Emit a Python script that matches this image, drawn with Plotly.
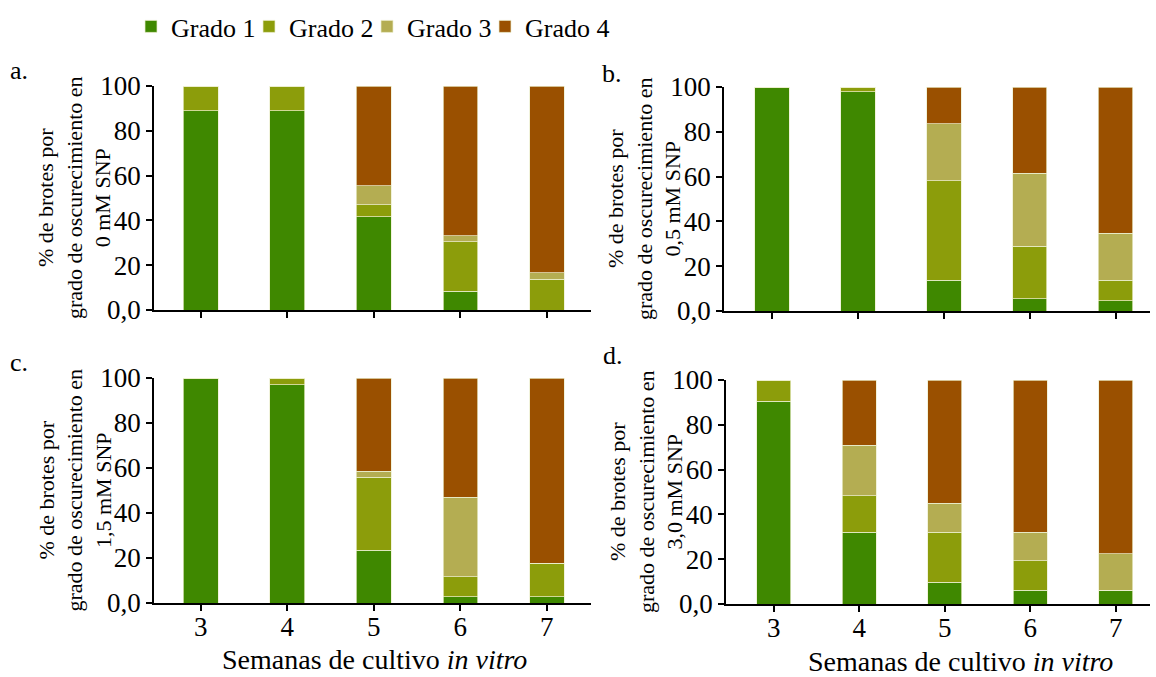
import plotly.graph_objects as go

weeks = [3, 4, 5, 6, 7]
grades = ["Grado 1", "Grado 2", "Grado 3", "Grado 4"]
colors = ["#3f8800", "#8c9d0b", "#b4ad52", "#9a5000"]

# panel a: 0 mM SNP
a_g1 = [88.9, 88.9, 41.6, 8.3, 0]
a_g2 = [11.1, 11.1, 5.5, 22.2, 13.7]
a_g3 = [0, 0, 8.3, 2.6, 2.9]
a_g4 = [0, 0, 44.6, 66.9, 83.4]
# panel b: 0,5 mM SNP
b_g1 = [100, 97.8, 13.7, 5.5, 4.5]
b_g2 = [0, 2.2, 44.5, 23.5, 9.2]
b_g3 = [0, 0, 25.4, 32.6, 21.0]
b_g4 = [0, 0, 16.4, 38.4, 65.3]
# panel c: 1,5 mM SNP
c_g1 = [100, 97.0, 23.4, 2.8, 2.8]
c_g2 = [0, 3.0, 32.4, 8.8, 14.8]
c_g3 = [0, 0, 2.8, 35.3, 0]
c_g4 = [0, 0, 41.4, 53.1, 82.4]
# panel d: 3,0 mM SNP
d_g1 = [90.6, 32.1, 9.7, 6.1, 6.1]
d_g2 = [9.4, 16.2, 22.4, 13.1, 0]
d_g3 = [0, 22.6, 12.9, 12.9, 16.3]
d_g4 = [0, 29.1, 55.0, 67.9, 77.6]

panel_letters = ["a.", "b.", "c.", "d."]
panel_conc = ["0 mM SNP", "0,5 mM SNP", "1,5 mM SNP", "3,0 mM SNP"]
ytick_vals = [0, 20, 40, 60, 80, 100]
ytick_text = ["0,0", "20", "40", "60", "80", "100"]
xlabel = "Semanas de cultivo <i>in vitro</i>"

panels = [
    [a_g1, a_g2, a_g3, a_g4],
    [b_g1, b_g2, b_g3, b_g4],
    [c_g1, c_g2, c_g3, c_g4],
    [d_g1, d_g2, d_g3, d_g4],
]

W, H = 1156, 677
FONT = "Liberation Serif, Times New Roman, serif"

# pixel layout of the plot areas (left, right, top, bottom)
areas = [
    (154, 591, 86, 310),
    (724, 1150, 87, 311),
    (154, 591, 378, 603),
    (726, 1150, 380, 604),
]
xranges = [[2.46, 7.51], [2.44, 7.40], [2.46, 7.51], [2.44, 7.40]]

fig = go.Figure()
for p, series in enumerate(panels):
    ax = "" if p == 0 else str(p + 1)
    for g, vals in enumerate(series):
        fig.add_trace(go.Bar(
            x=weeks, y=vals, name=grades[g],
            marker=dict(color=colors[g], line=dict(width=0.8, color="rgba(235,238,205,0.9)")),
            width=0.4, xaxis="x" + ax, yaxis="y" + ax,
            showlegend=(p == 0), legendgroup=grades[g],
        ))
# invisible legend-only spacer entry so the last legend label is not clipped
fig.add_trace(go.Scatter(x=[None], y=[None], name=" ", mode="markers", showlegend=True,
                         hoverinfo="skip", marker=dict(color="rgba(0,0,0,0)", size=1)))

layout = dict(
    template="none",
    width=W, height=H, barmode="stack",
    margin=dict(l=0, r=0, t=0, b=0, pad=0),
    plot_bgcolor="white", paper_bgcolor="white",
    font=dict(family=FONT, color="black", size=24),
    legend=dict(orientation="h", x=131 / W, y=1 - 3 / H, xanchor="left", yanchor="top",
                font=dict(family=FONT, size=26, color="black"),
                entrywidth=73, entrywidthmode="pixels", traceorder="normal",
                bgcolor="rgba(0,0,0,0)", borderwidth=0),
    annotations=[],
)

for p in range(4):
    l, r, t, b = areas[p]
    ax = "" if p == 0 else str(p + 1)
    bottom = p >= 2
    layout["xaxis" + ax] = dict(
        domain=[l / W, r / W], range=xranges[p], anchor="y" + ax, automargin=False,
        tickvals=weeks, ticktext=[str(w) for w in weeks], showticklabels=bottom,
        ticks="outside", ticklen=6, tickwidth=1.5, tickcolor="black", ticklabelstandoff=-7,
        showline=True, linecolor="black", linewidth=1.5, showgrid=False, zeroline=False,
        tickfont=dict(family=FONT, size=27, color="black"), fixedrange=True,
    )
    layout["yaxis" + ax] = dict(
        domain=[1 - b / H, 1 - t / H], range=[0, 100], anchor="x" + ax, automargin=False,
        tickvals=ytick_vals, ticktext=ytick_text,
        ticks="outside", ticklen=6, tickwidth=1.5, tickcolor="black",
        showline=True, linecolor="black", linewidth=1.5, showgrid=False, zeroline=False,
        tickfont=dict(family=FONT, size=27, color="black"), fixedrange=True,
    )
    # y title (three lines, rotated)
    layout["annotations"].append(dict(
        text="% de brotes por<br>grado de oscurecimiento en<br>" + panel_conc[p],
        textangle=-90, x=(l - 80) / W, y=1 - ((t + b) / 2) / H, xref="paper", yref="paper",
        xanchor="center", yanchor="middle", showarrow=False,
        font=dict(family=FONT, size=22, color="black"),
    ))
    # panel letter
    lx = [19, 612, 19, 613][p]
    ly = [70, 73, 362, 355][p]
    layout["annotations"].append(dict(
        text=panel_letters[p], x=lx / W, y=1 - ly / H, xref="paper", yref="paper",
        xanchor="center", yanchor="middle", showarrow=False,
        font=dict(family=FONT, size=26, color="black"),
    ))

for cx, cy in [(375, 659), (960, 661)]:
    layout["annotations"].append(dict(
        text=xlabel, x=cx / W, y=1 - cy / H, xref="paper", yref="paper",
        xanchor="center", yanchor="middle", showarrow=False,
        font=dict(family=FONT, size=28, color="black"),
    ))

fig.update_layout(**layout)
fig.write_html("out.html", config={"displayModeBar": False},
               post_script="document.body.style.margin='0px';document.body.style.overflow='hidden';")
